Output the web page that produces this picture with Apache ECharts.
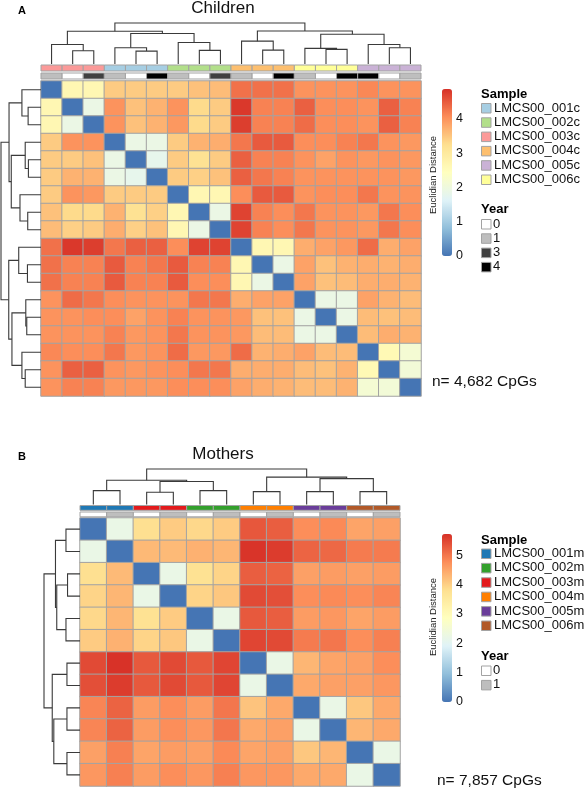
<!DOCTYPE html>
<html><head><meta charset="utf-8">
<script src="https://cdn.jsdelivr.net/npm/echarts@6.0.0/dist/echarts.min.js"></script>
<style>html,body{margin:0;padding:0;background:#fff;}#chart{width:587px;height:791px;}</style>
</head><body><div id="chart"></div>
<script>
const FONT = '"Liberation Sans", Arial, sans-serif';
const heatPalette = ['#4575B4','#91BFDB','#E0F3F8','#FFFFBF','#FEE090','#FC8D59','#D73027'];

// ---------- Panel A: Children ----------
const childTitle = 'Children';
const childCount = 'n= 4,682 CpGs';
const childSampleNames = ['LMCS00_001c','LMCS00_002c','LMCS00_003c','LMCS00_004c','LMCS00_005c','LMCS00_006c'];
const childSampleColors = ['#A6CEE3','#B2DF8A','#FB9A99','#FDBF6F','#CAB2D6','#FFFF99'];
const childYearNames = ['0','1','3','4'];
const childYearColors = ['#FFFFFF','#BEBEBE','#404040','#000000'];
const childColSample = ['LMCS00_003c','LMCS00_003c','LMCS00_003c','LMCS00_001c','LMCS00_001c','LMCS00_001c',
  'LMCS00_002c','LMCS00_002c','LMCS00_002c','LMCS00_004c','LMCS00_004c','LMCS00_004c',
  'LMCS00_006c','LMCS00_006c','LMCS00_006c','LMCS00_005c','LMCS00_005c','LMCS00_005c'];
const childColYear = ['1','0','3','1','0','4','1','0','3','1','0','4','1','0','4','4','0','1'];
const childDist = [
 [0,2.65,2.65,3.45,3.45,3.45,3.45,3.55,3.6,4.3,4.3,4.3,4.0,4.0,4.0,4.1,4.0,4.0],
 [2.65,0,1.9,4.0,3.55,3.7,4.0,3.3,3.45,4.8,4.15,4.15,4.45,4.05,4.05,4.0,4.45,4.15],
 [2.65,1.9,0,4.0,3.55,3.7,3.95,3.3,3.45,4.75,4.15,4.15,4.35,4.05,4.05,4.0,4.45,4.15],
 [3.45,4.0,4.0,0,1.9,1.9,3.45,3.7,3.75,4.25,4.5,4.5,4.05,4.05,4.15,4.25,4.0,3.95],
 [3.45,3.45,3.55,1.9,0,1.8,3.45,3.2,3.45,4.45,4.15,4.15,4.0,3.85,4.0,3.95,4.0,3.95],
 [3.45,3.7,3.7,1.9,1.8,0,3.45,3.4,3.55,4.45,4.25,4.15,4.0,4.0,4.0,4.0,4.0,3.95],
 [3.45,4.0,3.95,3.45,3.45,3.45,0,2.65,2.65,4.05,4.5,4.5,4.0,4.05,4.05,4.25,4.0,4.0],
 [3.55,3.3,3.3,3.7,3.2,3.4,2.65,0,1.9,4.7,4.15,4.05,4.25,4.0,4.0,3.95,4.25,4.05],
 [3.6,3.4,3.45,3.75,3.4,3.55,2.65,1.9,0,4.7,4.15,4.05,4.25,4.0,4.0,3.95,4.25,4.05],
 [4.3,4.8,4.75,4.25,4.45,4.45,4.05,4.7,4.7,0,2.65,2.65,3.75,3.85,3.95,4.35,3.75,3.85],
 [4.3,4.15,4.15,4.5,4.15,4.25,4.5,4.15,4.15,2.65,0,1.9,3.85,3.55,3.7,3.75,3.7,3.75],
 [4.3,4.15,4.15,4.5,4.15,4.15,4.5,4.05,4.05,2.65,1.9,0,3.85,3.55,3.6,3.75,3.75,3.7],
 [4.0,4.35,4.25,4.05,4.0,4.0,4.0,4.25,4.25,3.75,3.85,3.85,0,1.9,1.9,3.85,3.7,3.6],
 [4.0,4.0,4.05,4.05,3.85,4.0,4.15,4.0,4.0,3.95,3.55,3.55,1.9,0,1.9,3.6,3.55,3.6],
 [4.0,4.0,4.0,4.15,3.95,4.0,4.25,4.0,4.0,3.95,3.6,3.6,1.9,1.9,0,3.6,3.75,3.7],
 [4.1,4.05,4.05,4.25,3.95,4.0,4.35,3.95,3.95,4.35,3.7,3.75,3.85,3.6,3.6,0,2.6,2.15],
 [4.0,4.45,4.45,4.0,3.95,4.0,4.05,4.25,4.25,3.75,3.75,3.75,3.6,3.55,3.7,2.6,0,2.1],
 [4.0,4.15,4.15,3.95,3.95,3.95,4.05,4.05,4.05,3.85,3.75,3.7,3.6,3.6,3.7,2.15,2.1,0]
];
// hclust-style merges: negative = leaf position (1-based), positive = earlier merge step; third = height
const childMerges = [
 [-2,-3,13.3],[-1,1,19.7],[-5,-6,13],[-4,3,16.3],[-8,-9,13.7],[-7,5,21.7],[4,6,30.7],[2,7,33],
 [-11,-12,14],[-10,9,23],[-14,-15,14.7],[-13,11,15.7],[-17,-18,16.3],[-16,13,19.7],[12,14,30],[10,15,33.3],[8,16,41.3]
];
const childMax = 4.87;
const childTicks = [0,1,2,3,4];

// ---------- Panel B: Mothers ----------
const motherTitle = 'Mothers';
const motherCount = 'n= 7,857 CpGs';
const motherSampleNames = ['LMCS00_001m','LMCS00_002m','LMCS00_003m','LMCS00_004m','LMCS00_005m','LMCS00_006m'];
const motherSampleColors = ['#1F78B4','#33A02C','#E31A1C','#FF7F00','#6A3D9A','#B15928'];
const motherYearNames = ['0','1'];
const motherYearColors = ['#FFFFFF','#BEBEBE'];
const motherColSample = ['LMCS00_001m','LMCS00_001m','LMCS00_003m','LMCS00_003m','LMCS00_002m','LMCS00_002m',
  'LMCS00_004m','LMCS00_004m','LMCS00_005m','LMCS00_005m','LMCS00_006m','LMCS00_006m'];
const motherColYear = ['0','1','0','1','0','1','0','1','0','1','0','1'];
const motherDist = [
 [0,2.2,3.8,4.05,3.9,4.05,5.32,5.25,4.75,4.8,4.5,4.55],
 [2.2,0,4.26,4.25,4.35,4.3,5.68,5.6,5.19,5.15,4.95,4.95],
 [3.8,4.25,0,2.2,3.75,3.95,5.25,5.2,4.55,4.6,4.55,4.6],
 [3.95,4.3,2.2,0,3.95,4.1,5.45,5.4,4.75,4.8,4.75,4.85],
 [3.9,4.3,3.75,4.05,0,2.2,5.3,5.25,4.6,4.65,4.5,4.6],
 [4.05,4.35,3.95,4.1,2.2,0,5.5,5.45,4.95,5.0,4.75,4.9],
 [5.45,5.7,5.3,5.45,5.3,5.5,0,2.2,4.3,4.5,4.55,4.75],
 [5.4,5.6,5.3,5.45,5.3,5.5,2.2,0,4.45,4.55,4.55,4.65],
 [4.85,5.2,4.6,4.75,4.6,5.0,4.15,4.45,0,2.2,4.1,4.45],
 [4.85,5.2,4.6,4.75,4.65,5.0,4.45,4.55,2.2,0,4.3,4.45],
 [4.55,4.9,4.5,4.6,4.55,4.8,4.5,4.55,4.1,4.3,0,2.2],
 [4.65,4.9,4.6,4.75,4.65,4.9,4.65,4.65,4.45,4.45,2.2,0]
];
const motherMerges = [
 [-1,-2,14.3],[-3,-4,12.7],[-5,-6,14.3],[2,3,23.7],[1,4,25],
 [-7,-8,13.3],[-9,-10,13.3],[-11,-12,13.3],[7,8,26.7],[6,9,28.3],[5,10,36.7]
];
const motherMax = 5.72;
const motherTicks = [0,1,2,3,4,5];

// ---------- layout ----------
const layoutA = {
  heat:{left:41, top:81, width:380, height:315},
  dendTop:{left:41, top:23, width:380, height:41},
  dendLeft:{left:1, top:81, width:40, height:315},
  sampleBar:{left:41, top:65, width:380, height:6},
  yearBar:{left:41, top:73, width:380, height:6},
  cbar:{left:442, top:89, width:10, height:167},
  cbarLabel:{x:433, y:175},
  legendX:481, sampleTitleY:94, sampleY0:108, yearTitleY:209, yearY0:224, step:14.3,
  panelLabel:{text:'A', x:18, y:10.5}, title:{x:223, y:8}, count:{x:432, y:382}
};
const layoutB = {
  heat:{left:80, top:518, width:320, height:268},
  dendTop:{left:80, top:469, width:320, height:35.5},
  dendLeft:{left:44, top:518, width:36, height:268},
  sampleBar:{left:80, top:505.5, width:320, height:4.8},
  yearBar:{left:80, top:512, width:320, height:4.8},
  cbar:{left:442, top:534, width:10, height:168},
  cbarLabel:{x:433, y:617},
  legendX:481, sampleTitleY:540, sampleY0:553.5, yearTitleY:656, yearY0:670.5, step:14.4,
  panelLabel:{text:'B', x:18, y:457}, title:{x:223, y:454}, count:{x:437, y:781}
};

const grids=[], xAxes=[], yAxes=[], series=[], visualMaps=[], graphics=[];

function addGrid(g){ grids.push(Object.assign({containLabel:false}, g)); return grids.length-1; }

function dendroSegments(merges){
  const pos=[], hts=[], segs=[];
  merges.forEach(m=>{
    const get = id => id<0 ? [-id-1, 0] : [pos[id-1], hts[id-1]];
    const a=get(m[0]), b=get(m[1]);
    segs.push([a[0],a[1],b[0],b[1],m[2]]);
    pos.push((a[0]+b[0])/2); hts.push(m[2]);
  });
  return segs;
}

function buildPanel(P, L){
  const n = P.colSample.length;
  const cats = P.colSample.map((s,i)=>String(i));
  // heatmap
  let g = addGrid(L.heat);
  xAxes.push({type:'category', gridIndex:g, data:cats, show:false});
  yAxes.push({type:'category', gridIndex:g, data:cats, show:false, inverse:true});
  const heatData=[];
  P.dist.forEach((row,r)=>row.forEach((v,c)=>heatData.push([c,r,v])));
  series.push({type:'heatmap', xAxisIndex:g, yAxisIndex:g, data:heatData,
    itemStyle:{borderColor:'#a3a3a3', borderWidth:1}, emphasis:{disabled:true}, silent:true});
  visualMaps.push({type:'continuous', seriesIndex:series.length-1, min:0, max:P.max,
    left:L.cbar.left, top:L.cbar.top, itemWidth:L.cbar.width, itemHeight:L.cbar.height,
    padding:0, calculable:false, hoverLink:false, inRange:{color:heatPalette}});
  // colorbar axis
  g = addGrid(L.cbar);
  xAxes.push({type:'value', gridIndex:g, show:false, min:0, max:1});
  yAxes.push({type:'value', gridIndex:g, min:0, max:P.max, position:'right',
    axisLine:{show:false}, axisTick:{show:false}, splitLine:{show:false},
    axisLabel:{customValues:P.ticks, fontSize:12.5, color:'#111', margin:4, fontFamily:FONT}});
  // top dendrogram
  const segs = dendroSegments(P.merges);
  const rootH = P.merges[P.merges.length-1][2];
  const dendStyle = {stroke:'#3a3a3a', lineWidth:1.1, fill:null};
  g = addGrid(L.dendTop);
  xAxes.push({type:'value', gridIndex:g, show:false, min:-0.5, max:n-0.5});
  yAxes.push({type:'value', gridIndex:g, show:false, min:0, max:rootH});
  series.push({type:'custom', xAxisIndex:g, yAxisIndex:g, data:segs, silent:true,
    dimensions:['xa','ha','xb','hb','h'], encode:{x:[0,2], y:[1,3,4]},
    renderItem:(params, api)=>{
      const xa=api.value(0), ha=api.value(1), xb=api.value(2), hb=api.value(3), h=api.value(4);
      return {type:'polyline', shape:{points:[api.coord([xa,ha]),api.coord([xa,h]),api.coord([xb,h]),api.coord([xb,hb])]}, style:dendStyle};
    }});
  // left dendrogram
  g = addGrid(L.dendLeft);
  xAxes.push({type:'value', gridIndex:g, show:false, min:0, max:rootH, inverse:true});
  yAxes.push({type:'value', gridIndex:g, show:false, min:-0.5, max:n-0.5, inverse:true});
  series.push({type:'custom', xAxisIndex:g, yAxisIndex:g, data:segs, silent:true,
    dimensions:['xa','ha','xb','hb','h'], encode:{y:[0,2], x:[1,3,4]},
    renderItem:(params, api)=>{
      const xa=api.value(0), ha=api.value(1), xb=api.value(2), hb=api.value(3), h=api.value(4);
      return {type:'polyline', shape:{points:[api.coord([ha,xa]),api.coord([h,xa]),api.coord([h,xb]),api.coord([hb,xb])]}, style:dendStyle};
    }});
  // annotation bars
  const bar = (layout, values, names, colors)=>{
    const gi = addGrid(layout);
    xAxes.push({type:'category', gridIndex:gi, data:cats, show:false});
    yAxes.push({type:'category', gridIndex:gi, data:['a'], show:false});
    series.push({type:'custom', xAxisIndex:gi, yAxisIndex:gi, silent:true,
      data: values.map((v,i)=>[i,0]),
      renderItem:(params, api)=>{
        const p = api.coord([api.value(0), 0]);
        const s = api.size([1,1]);
        const col = colors[names.indexOf(values[params.dataIndex])];
        return {type:'rect', shape:{x:p[0]-s[0]/2, y:p[1]-s[1]/2, width:s[0], height:s[1]},
          style:{fill:col, stroke:'#a3a3a3', lineWidth:1}};
      }});
  };
  bar(L.sampleBar, P.colSample, P.sampleNames, P.sampleColors);
  bar(L.yearBar, P.colYear, P.yearNames, P.yearColors);

  // texts
  graphics.push({type:'text', x:L.panelLabel.x, y:L.panelLabel.y, style:{text:L.panelLabel.text, font:'bold 11px '+FONT, fill:'#000', textVerticalAlign:'middle'}});
  graphics.push({type:'text', x:L.title.x, y:L.title.y, style:{text:P.title, font:'17px '+FONT, fill:'#111', textAlign:'center', textVerticalAlign:'middle'}});
  graphics.push({type:'text', x:L.count.x, y:L.count.y, style:{text:P.count, font:'15.5px '+FONT, fill:'#111', textVerticalAlign:'middle'}});
  graphics.push({type:'text', x:L.cbarLabel.x, y:L.cbarLabel.y, rotation:Math.PI/2,
    style:{text:'Euclidian Distance', font:'9.5px '+FONT, fill:'#222', textAlign:'center', textVerticalAlign:'middle'}});
  // legends
  const lx = L.legendX;
  graphics.push({type:'text', x:lx, y:L.sampleTitleY, style:{text:'Sample', font:'bold 13px '+FONT, fill:'#000', textVerticalAlign:'middle'}});
  P.sampleNames.forEach((nm,i)=>{
    const y = L.sampleY0 + i*L.step;
    graphics.push({type:'rect', shape:{x:lx+0.5, y:y-4.5, width:9.5, height:9.5}, style:{fill:P.sampleColors[i], stroke:'#a3a3a3', lineWidth:1}});
    graphics.push({type:'text', x:lx+13, y:y, style:{text:nm, font:'13px '+FONT, fill:'#111', textVerticalAlign:'middle'}});
  });
  graphics.push({type:'text', x:lx, y:L.yearTitleY, style:{text:'Year', font:'bold 13px '+FONT, fill:'#000', textVerticalAlign:'middle'}});
  P.yearNames.forEach((nm,i)=>{
    const y = L.yearY0 + i*L.step;
    graphics.push({type:'rect', shape:{x:lx+0.5, y:y-4.5, width:9.5, height:9.5}, style:{fill:P.yearColors[i], stroke:'#a3a3a3', lineWidth:1}});
    graphics.push({type:'text', x:lx+12, y:y, style:{text:nm, font:'13px '+FONT, fill:'#111', textVerticalAlign:'middle'}});
  });
}

buildPanel({title:childTitle, count:childCount, colSample:childColSample, colYear:childColYear,
  sampleNames:childSampleNames, sampleColors:childSampleColors, yearNames:childYearNames, yearColors:childYearColors,
  dist:childDist, merges:childMerges, max:childMax, ticks:childTicks}, layoutA);
buildPanel({title:motherTitle, count:motherCount, colSample:motherColSample, colYear:motherColYear,
  sampleNames:motherSampleNames, sampleColors:motherSampleColors, yearNames:motherYearNames, yearColors:motherYearColors,
  dist:motherDist, merges:motherMerges, max:motherMax, ticks:motherTicks}, layoutB);

const chart = echarts.init(document.getElementById('chart'), null, {renderer:'canvas', width:587, height:791});
chart.setOption({
  animation:false,
  backgroundColor:'#ffffff',
  textStyle:{fontFamily:FONT},
  grid:grids, xAxis:xAxes, yAxis:yAxes, visualMap:visualMaps, series:series,
  graphic:graphics
});
</script>
</body></html>
